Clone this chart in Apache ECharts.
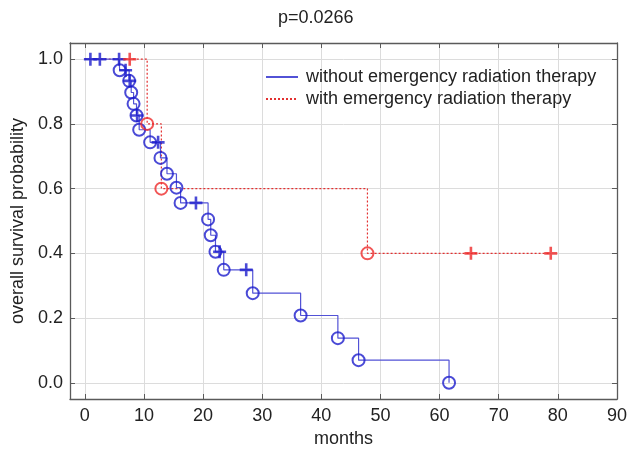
<!DOCTYPE html>
<html>
<head>
<meta charset="utf-8">
<script src="https://cdn.jsdelivr.net/npm/echarts@6/dist/echarts.min.js"></script>
<style>
html,body{margin:0;padding:0;background:#fff;}
#kmChart{width:630px;height:453px;}
</style>
</head>
<body>
<div id="kmChart"></div>
<script>
// without emergency radiation therapy
var blueEventTimes = [5.9, 7.5, 7.85, 8.25, 8.75, 9.2, 11.05, 12.8, 13.9, 15.5, 16.2, 20.85, 21.3, 22.1, 23.5, 28.4, 36.5, 42.8, 46.3, 61.6];
var blueEventSurv = [0.966, 0.933, 0.897, 0.862, 0.826, 0.782, 0.743, 0.695, 0.646, 0.603, 0.556, 0.505, 0.456, 0.405, 0.349, 0.277, 0.208, 0.138, 0.070, 0.0];
var blueCensTimes = [0.95, 2.55, 5.8, 6.9, 7.6, 8.85, 12.4, 18.8, 22.8, 27.3];
var blueCensSurv = [1, 1, 1, 0.966, 0.933, 0.826, 0.743, 0.556, 0.405, 0.349];
// with emergency radiation therapy
var redEventTimes = [10.55, 12.95, 47.8];
var redEventSurv = [0.8, 0.6, 0.4];
var redCensTimes = [7.6, 65.3, 78.8];
var redCensSurv = [1, 0.4, 0.4];

var xTicks = [0, 10, 20, 30, 40, 50, 60, 70, 80, 90];
var yTicks = [0, 0.2, 0.4, 0.6, 0.8, 1.0];

var nameBlue = 'without emergency radiation therapy';
var nameRed = 'with emergency radiation therapy';

function pairs(t, s){
	var out = [];
	for(var i = 0; i < t.length; i++){
		out.push([t[i], s[i]]);
	}
	return out;
}
function stepData(et, es, ct, cs){
	var pts = [[0, 1]].concat(pairs(et, es), pairs(ct, cs));
	pts.sort(function(a, b){ return a[0] - b[0] || b[1] - a[1]; });
	return pts;
}

var font = 'Liberation Sans, Arial, sans-serif';
var frameColor = '#5a5a5a';
var gridColor = '#dcdcdc';
var plusPath = 'path://M4,0H6V4H10V6H6V10H4V6H0V4H4Z';

var chart = echarts.init(document.getElementById('kmChart'));
var option = {
	backgroundColor: '#fff',
	animation: false,
	title: {
		text: 'p=0.0266',
		left: 278,
		top: 9,
		padding: 0,
		textStyle: {fontFamily: font, fontSize: 18, fontWeight: 'normal', color: '#222'}
	},
	legend: {
		orient: 'vertical',
		left: 265,
		top: 68,
		padding: 0,
		itemWidth: 32,
		itemHeight: 12,
		itemGap: 4,
		itemStyle: {opacity: 0},
		data: [nameBlue, nameRed],
		textStyle: {fontFamily: font, fontSize: 18, color: '#222', padding: [0, 0, 0, 3]}
	},
	grid: {left: 70, right: 12, top: 43, bottom: 54},
	xAxis: [
		{
			type: 'value',
			min: -2.5,
			max: 90,
			name: 'months',
			nameLocation: 'middle',
			nameGap: 31,
			nameTextStyle: {fontFamily: font, fontSize: 18, color: '#222'},
			axisLine: {show: true, onZero: false, lineStyle: {color: frameColor, width: 1.3}},
			axisTick: {show: true, inside: true, length: 5, customValues: xTicks, lineStyle: {color: frameColor}},
			axisLabel: {customValues: xTicks, margin: 8, fontFamily: font, fontSize: 18, color: '#222'},
			splitLine: {show: true, lineStyle: {color: gridColor, width: 1}}
		},
		{
			type: 'value',
			position: 'top',
			min: -2.5,
			max: 90,
			axisLine: {show: true, onZero: false, lineStyle: {color: frameColor, width: 1.3}},
			axisTick: {show: true, inside: true, length: 5, customValues: xTicks, lineStyle: {color: frameColor}},
			axisLabel: {show: false},
			splitLine: {show: false}
		}
	],
	yAxis: [
		{
			type: 'value',
			min: -0.05,
			max: 1.05,
			name: 'overall survival probability',
			nameLocation: 'middle',
			nameGap: 40,
			nameTextStyle: {fontFamily: font, fontSize: 18, color: '#222'},
			axisLine: {show: true, onZero: false, lineStyle: {color: frameColor, width: 1.3}},
			axisTick: {show: true, inside: true, length: 5, customValues: yTicks, lineStyle: {color: frameColor}},
			axisLabel: {
				customValues: yTicks, margin: 7, fontFamily: font, fontSize: 18, color: '#222',
				formatter: function(v){ return v.toFixed(1); }
			},
			splitLine: {show: true, lineStyle: {color: gridColor, width: 1}}
		},
		{
			type: 'value',
			position: 'right',
			min: -0.05,
			max: 1.05,
			axisLine: {show: true, onZero: false, lineStyle: {color: frameColor, width: 1.3}},
			axisTick: {show: true, inside: true, length: 5, customValues: yTicks, lineStyle: {color: frameColor}},
			axisLabel: {show: false},
			splitLine: {show: false}
		}
	],
	series: [
		{
			name: nameRed,
			type: 'line',
			step: 'end',
			symbol: 'none',
			z: 2,
			lineStyle: {color: '#e33030', width: 1.2, type: [2, 2]},
			itemStyle: {color: '#e33030'},
			data: stepData(redEventTimes, redEventSurv, redCensTimes, redCensSurv)
		},
		{
			name: nameBlue,
			type: 'line',
			step: 'end',
			symbol: 'none',
			z: 3,
			lineStyle: {color: '#5252d6', width: 1.2},
			itemStyle: {color: '#5252d6'},
			data: stepData(blueEventTimes, blueEventSurv, blueCensTimes, blueCensSurv)
		},
		{
			name: 'blue events',
			type: 'scatter',
			symbol: 'circle',
			symbolSize: 12,
			z: 4,
			itemStyle: {color: 'rgba(0,0,0,0)', borderColor: '#1d1dcc', borderWidth: 2},
			data: pairs(blueEventTimes, blueEventSurv)
		},
		{
			name: 'blue censored',
			type: 'scatter',
			symbol: plusPath,
			symbolSize: 13,
			z: 4,
			itemStyle: {color: '#1d1dcc'},
			data: pairs(blueCensTimes, blueCensSurv)
		},
		{
			name: 'red events',
			type: 'scatter',
			symbol: 'circle',
			symbolSize: 12,
			z: 5,
			itemStyle: {color: 'rgba(0,0,0,0)', borderColor: '#ee2a2a', borderWidth: 2},
			data: pairs(redEventTimes, redEventSurv)
		},
		{
			name: 'red censored',
			type: 'scatter',
			symbol: plusPath,
			symbolSize: 13,
			z: 5,
			itemStyle: {color: '#ee2a2a'},
			data: pairs(redCensTimes, redCensSurv)
		}
	]
};
chart.setOption(option);
</script>
</body>
</html>
